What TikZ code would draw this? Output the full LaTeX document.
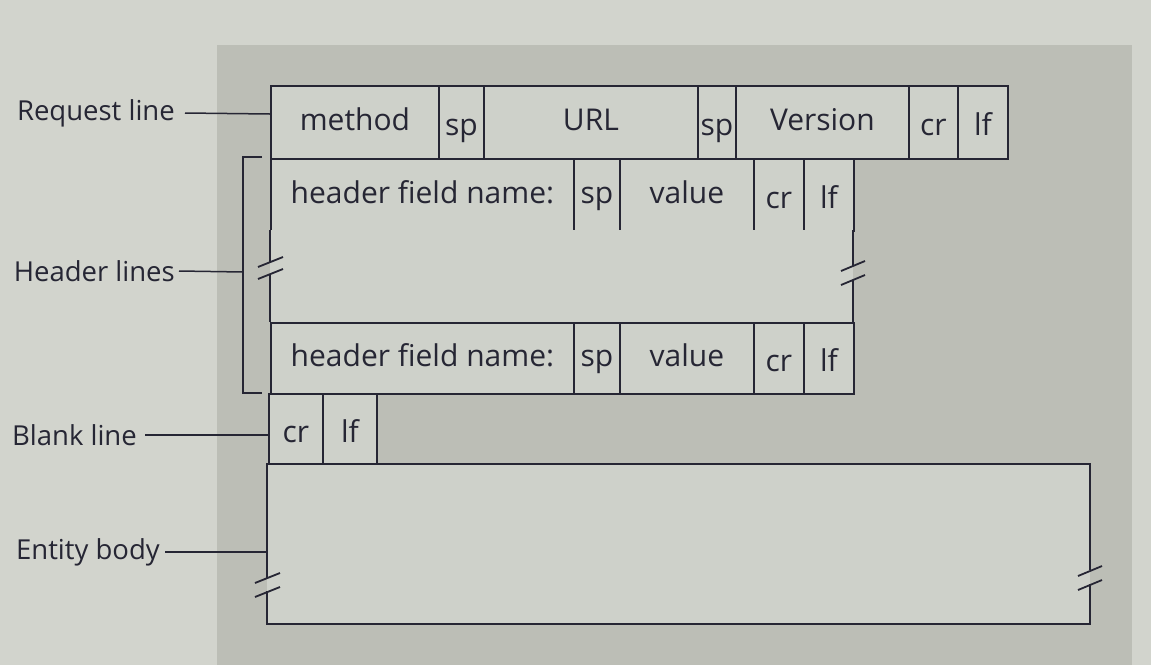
\documentclass[tikz,border=0pt]{standalone}
\usepackage{fontspec}
\setmainfont{Open Sans}
\definecolor{pagebg}{RGB}{210,212,205}
\definecolor{panel}{RGB}{188,190,182}
\definecolor{boxfill}{RGB}{206,209,202}
\definecolor{ink}{RGB}{38,38,52}
\begin{document}
\begin{tikzpicture}[x=1pt,y=-1pt,
  cell/.style={draw=ink, line width=1.8pt, fill=boxfill, inner sep=0pt, anchor=north west,
    text=ink, font=\fontsize{30}{34}\selectfont, text height=24pt, text depth=7pt},
  lowcell/.style={cell, text height=29pt, text depth=2pt},
  lbl/.style={font=\fontsize{27.5}{32}\selectfont, anchor=east, inner sep=0pt, text=ink},
  lead/.style={draw=ink, line width=1.5pt},
  edge/.style={draw=ink, line width=1.8pt},
  brk/.style={draw=ink, line width=1.8pt}]
\useasboundingbox (0,0) rectangle (1151,665);
\fill[pagebg] (0,0) rectangle (1151,665);
\fill[panel] (217,45) rectangle (1132,665);
% request line
\node[cell, minimum width=168, minimum height=73] (meth) at (270,85) {method};
\node[lowcell, minimum width=45, minimum height=73] (sp1) at (438,85) {sp};
\node[cell, minimum width=214, minimum height=73] (url) at (483,85) {URL};
\node[lowcell, minimum width=38, minimum height=73] (sp2) at (697,85) {sp};
\node[cell, minimum width=173, minimum height=73] (ver) at (735,85) {Version};
\node[lowcell, minimum width=49, minimum height=73] (cr1) at (908,85) {cr};
\node[lowcell, minimum width=50, minimum height=73] (lf1) at (957,85) {lf};
% header line 1
\node[cell, minimum width=303, minimum height=72] (h1) at (270,158) {header field name:};
\node[cell, minimum width=46, minimum height=72] (h1sp) at (573,158) {sp};
\node[cell, minimum width=134, minimum height=72] (h1v) at (619,158) {value};
\node[lowcell, minimum width=50, minimum height=72] (h1cr) at (753,158) {cr};
\node[lowcell, minimum width=50, minimum height=72] (h1lf) at (803,158) {lf};
% middle gap region
\fill[boxfill] (270,230) rectangle (853,322);
\draw[edge] (270,230) -- (270,262) (270,274) -- (270,322);
\draw[edge] (853,230) -- (853,266) (853,280) -- (853,322);
\draw[brk] (258,267) -- (283,257) (258,279) -- (283,269);
\draw[brk] (841,271) -- (865,261) (841,285) -- (865,275);
% header line 2
\node[cell, minimum width=303, minimum height=71] (h2) at (270,322) {header field name:};
\node[cell, minimum width=46, minimum height=71] (h2sp) at (573,322) {sp};
\node[cell, minimum width=134, minimum height=71] (h2v) at (619,322) {value};
\node[lowcell, minimum width=50, minimum height=71] (h2cr) at (753,322) {cr};
\node[lowcell, minimum width=50, minimum height=71] (h2lf) at (803,322) {lf};
% blank line
\node[lowcell, minimum width=54, minimum height=71] (bcr) at (268,393) {cr};
\node[lowcell, minimum width=54, minimum height=71] (blf) at (322,393) {lf};
% entity body
\fill[boxfill] (267,464) rectangle (1090,624);
\draw[edge] (267,578) -- (267,464) -- (1090,464) -- (1090,570);
\draw[edge] (1090,584) -- (1090,624) -- (267,624) -- (267,591);
\draw[brk] (255,583) -- (280,573) (255,597) -- (280,587);
\draw[brk] (1078,576) -- (1102,566) (1078,590) -- (1102,580);
% bracket
\coordinate (bt) at (262,157);
\coordinate (bb) at (262,393);
\draw[lead] (bt) -- (243,157) -- (243,393) -- (bb);
\coordinate (bm) at (243,272);
% labels
\node[lbl] (lreq) at (175,113) {Request line};
\node[lbl] (lhdr) at (175,271) {Header lines};
\node[lbl] (lblank) at (137,435) {Blank line};
\node[lbl] (lent) at (160,552) {Entity body};
\coordinate (ereq) at (270,114);
\coordinate (eblank) at (268,435);
\coordinate (eent) at (267,552);
\draw[lead] ([xshift=10pt]lreq.east) -- (ereq);
\draw[lead] ([xshift=4pt]lhdr.east) -- (bm);
\draw[lead] ([xshift=8pt]lblank.east) -- (eblank);
\draw[lead] ([xshift=5pt]lent.east) -- (eent);
\end{tikzpicture}
\end{document}
